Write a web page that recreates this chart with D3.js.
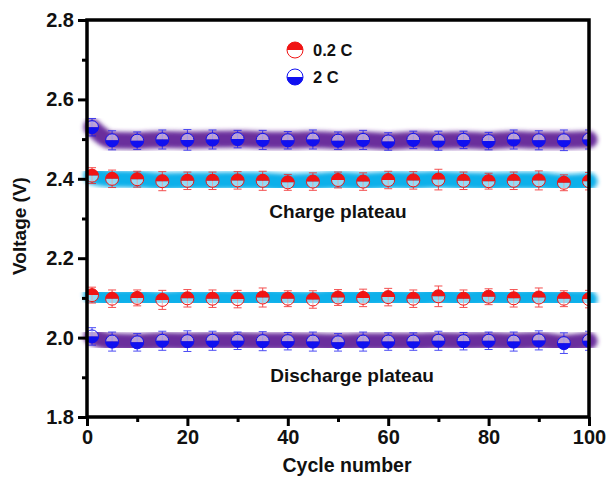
<!DOCTYPE html>
<meta charset="utf-8">
<head>
<style>
body { margin: 0; background: #fff; }
text { font-family: "Liberation Sans", Arial, sans-serif; font-weight: bold; fill: #111; }
</style>
</head>
<body>
<script src="https://d3js.org/d3.v7.min.js"></script>
<div id="chart"></div>
<script>
// cycles sampled every 5
var cycles = [1, 5, 10, 15, 20, 25, 30, 35, 40, 45, 50, 55, 60, 65, 70, 75, 80, 85, 90, 95, 100];

var charge2C   = [2.530, 2.497, 2.496, 2.499, 2.498, 2.499, 2.500, 2.498, 2.497, 2.499, 2.496, 2.498, 2.494, 2.498, 2.496, 2.498, 2.495, 2.499, 2.497, 2.497, 2.499];
var charge02C  = [2.408, 2.400, 2.399, 2.394, 2.395, 2.395, 2.396, 2.395, 2.391, 2.393, 2.397, 2.393, 2.397, 2.396, 2.398, 2.395, 2.394, 2.395, 2.396, 2.390, 2.394];
var dis02C     = [2.107, 2.098, 2.100, 2.095, 2.099, 2.098, 2.097, 2.101, 2.098, 2.096, 2.101, 2.100, 2.102, 2.098, 2.104, 2.098, 2.103, 2.099, 2.101, 2.098, 2.097];
var dis2C      = [2.003, 1.990, 1.988, 1.992, 1.991, 1.992, 1.992, 1.991, 1.991, 1.990, 1.988, 1.990, 1.990, 1.990, 1.992, 1.991, 1.992, 1.990, 1.993, 1.986, 1.992];

var err2C  = [0.022, 0.024, 0.022, 0.024, 0.026, 0.024, 0.022, 0.024, 0.022, 0.024, 0.022, 0.024, 0.022, 0.022, 0.024, 0.022, 0.022, 0.024, 0.024, 0.026, 0.024];
var err02C = [0.020, 0.022, 0.020, 0.024, 0.022, 0.022, 0.022, 0.024, 0.020, 0.022, 0.020, 0.022, 0.022, 0.022, 0.026, 0.022, 0.020, 0.022, 0.024, 0.020, 0.022];

var xTicks = [0, 20, 40, 60, 80, 100];
var yTicks = [1.8, 2.0, 2.2, 2.4, 2.6, 2.8];

var width = 608, height = 478;
var margin = {top: 20, right: 19, bottom: 61, left: 87};

var svg = d3.select('#chart').append('svg')
    .attr('width', width)
    .attr('height', height);

var defs = svg.append('defs');
defs.append('filter').attr('id', 'blur')
    .attr('x', '-5%').attr('y', '-60%').attr('width', '110%').attr('height', '220%')
  .append('feGaussianBlur').attr('stdDeviation', 2);
defs.append('clipPath').attr('id', 'plot')
  .append('rect')
    .attr('x', margin.left).attr('y', margin.top)
    .attr('width', width - margin.left - margin.right)
    .attr('height', height - margin.top - margin.bottom);

var x = d3.scaleLinear().domain([0, 100]).range([margin.left, width - margin.right]);
var y = d3.scaleLinear().domain([1.8, 2.8]).range([height - margin.bottom, margin.top]);

var series = [
  {vals: charge2C,  err: err2C,  band: '#6a2f9c', color: '#1010f0', top: false},
  {vals: charge02C, err: err02C, band: '#10b0ea', color: '#f01414', top: true},
  {vals: dis02C,    err: err02C, band: '#10b0ea', color: '#f01414', top: true},
  {vals: dis2C,     err: err2C,  band: '#6a2f9c', color: '#1010f0', top: false}
];

var line = d3.line()
    .x(function (d) { return x(d[0]); })
    .y(function (d) { return y(d[1]); })
    .curve(d3.curveMonotoneX);

// thick blurred bands
series.forEach(function (s) {
  var pts = cycles.map(function (c, i) { return [c, s.vals[i]]; });
  svg.append('path')
      .attr('d', line(pts))
      .attr('fill', 'none')
      .attr('stroke', s.band)
      .attr('stroke-width', 17)
      .attr('stroke-linecap', 'round')
      .attr('filter', 'url(#blur)');
});

// half-filled circle marker
function marker(g, cx, cy, r, color, topFilled, otherFill) {
  var upper = 'M' + (cx - r) + ',' + cy + ' A' + r + ',' + r + ' 0 0 1 ' + (cx + r) + ',' + cy + ' Z';
  var lower = 'M' + (cx - r) + ',' + cy + ' A' + r + ',' + r + ' 0 0 0 ' + (cx + r) + ',' + cy + ' Z';
  g.append('path').attr('d', topFilled ? lower : upper).attr('fill', otherFill);
  g.append('path').attr('d', topFilled ? upper : lower).attr('fill', color);
  g.append('circle').attr('cx', cx).attr('cy', cy).attr('r', r)
      .attr('fill', 'none').attr('stroke', color).attr('stroke-width', 1);
}

var marks = svg.append('g').attr('clip-path', 'url(#plot)');
series.forEach(function (s) {
  cycles.forEach(function (c, i) {
    var cx = x(c), y0 = y(s.vals[i] - s.err[i]), y1 = y(s.vals[i] + s.err[i]);
    var eg = marks.append('g').attr('stroke', s.color).attr('stroke-width', 1).attr('opacity', 0.75);
    eg.append('line').attr('x1', cx).attr('x2', cx).attr('y1', y0).attr('y2', y1);
    eg.append('line').attr('x1', cx - 4).attr('x2', cx + 4).attr('y1', y0).attr('y2', y0);
    eg.append('line').attr('x1', cx - 4).attr('x2', cx + 4).attr('y1', y1).attr('y2', y1);
    marker(marks, cx, y(s.vals[i]), 6.5, s.color, s.top, 'rgba(255,255,255,0.55)');
  });
});

// frame
var x0 = margin.left, x1 = width - margin.right, yT = margin.top, yB = height - margin.bottom;
svg.append('rect')
    .attr('x', x0).attr('y', yT).attr('width', x1 - x0).attr('height', yB - yT)
    .attr('fill', 'none').attr('stroke', '#000').attr('stroke-width', 3.5);

// axes
svg.append('g').attr('transform', 'translate(0,' + yB + ')')
    .call(d3.axisBottom(x).tickValues(xTicks).tickSize(9).tickPadding(4).tickFormat(d3.format('d')));
svg.append('g').attr('transform', 'translate(0,' + yB + ')')
    .call(d3.axisBottom(x).tickValues([10, 30, 50, 70, 90]).tickSize(5).tickFormat(''));
svg.append('g').attr('transform', 'translate(' + x0 + ',0)')
    .call(d3.axisLeft(y).tickValues(yTicks).tickSize(9).tickPadding(4).tickFormat(d3.format('.1f')));
svg.append('g').attr('transform', 'translate(' + x0 + ',0)')
    .call(d3.axisLeft(y).tickValues([1.9, 2.1, 2.3, 2.5, 2.7]).tickSize(5).tickFormat(''));

svg.selectAll('.domain').remove();
svg.selectAll('.tick line').attr('stroke', '#000').attr('stroke-width', 3);
svg.selectAll('.tick text').style('font-size', '20px').attr('fill', '#111')
    .style('font-family', '"Liberation Sans", Arial, sans-serif').style('font-weight', 'bold');

// axis titles
svg.append('text').attr('x', 347).attr('y', 472)
    .attr('text-anchor', 'middle').style('font-size', '19.5px').text('Cycle number');
svg.append('text').attr('transform', 'translate(26,226) rotate(-90)')
    .attr('text-anchor', 'middle').style('font-size', '19px').text('Voltage (V)');

// annotations
svg.append('text').attr('x', 338).attr('y', 218).attr('text-anchor', 'middle')
    .style('font-size', '19px').text('Charge plateau');
svg.append('text').attr('x', 352).attr('y', 382).attr('text-anchor', 'middle')
    .style('font-size', '19px').text('Discharge plateau');

// legend
var legend = svg.append('g');
marker(legend, 295, 50, 8, '#f01414', true, '#fff');
legend.append('text').attr('x', 313).attr('y', 56).style('font-size', '16.5px').text('0.2 C');
marker(legend, 295, 77, 8, '#1010f0', false, '#fff');
legend.append('text').attr('x', 313).attr('y', 83).style('font-size', '16.5px').text('2 C');
</script>
</body>
